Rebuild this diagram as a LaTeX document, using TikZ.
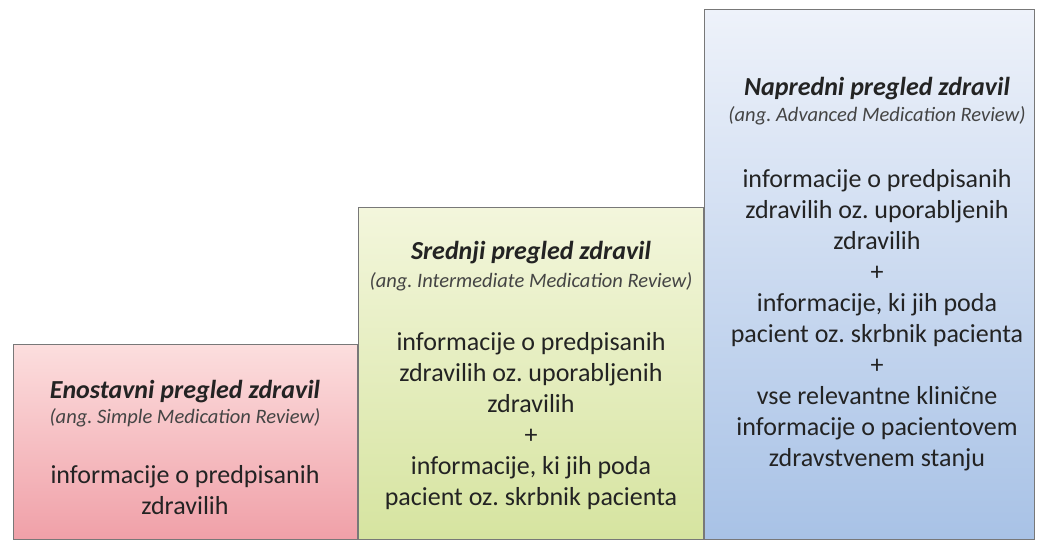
\documentclass[tikz,border=0pt]{standalone}
\usepackage{fontspec}
\setmainfont{Carlito}
\frenchspacing
\definecolor{txt}{RGB}{35,35,35}
\definecolor{edge}{RGB}{120,120,120}
\definecolor{redtop}{RGB}{252,222,222}
\definecolor{redbot}{RGB}{240,160,168}
\definecolor{grntop}{RGB}{243,246,220}
\definecolor{grnbot}{RGB}{214,228,160}
\definecolor{blutop}{RGB}{238,242,250}
\definecolor{blubot}{RGB}{168,194,230}
\tikzset{
  box/.style={draw=edge, line width=1pt, rectangle, anchor=south west, inner sep=0pt},
  ttl/.style={text=txt, font=\fontsize{26}{30}\selectfont\bfseries\itshape},
  sub/.style={text=txt!85, font=\fontsize{20.5}{24}\selectfont\itshape},
  body/.style={text=txt, align=center, font=\fontsize{26}{31}\selectfont}
}
\begin{document}
\begin{tikzpicture}[x=1pt,y=-1pt]
\useasboundingbox (0,0) rectangle (1040,542);
\fill[white] (0,0) rectangle (1040,542);
% boxes
\node[box, top color=redtop, bottom color=redbot, minimum width=344pt, minimum height=195pt] (simple) at (13,540) {};
\node[box, top color=grntop, bottom color=grnbot, minimum width=345pt, minimum height=332pt] (inter) at (358,540) {};
\node[box, top color=blutop, bottom color=blubot, minimum width=330pt, minimum height=530pt] (adv) at (704,540) {};
% simple
\node[ttl] (t1) at (185,392) {Enostavni pregled zdravil};
\node[sub] (s1) at (185,418) {(ang. Simple Medication Review)};
\node[body] (b1) at (185,490) {informacije o predpisanih\\zdravilih};
% intermediate
\node[ttl] (t2) at (531,253) {Srednji pregled zdravil};
\node[sub] (s2) at (531,282) {(ang. Intermediate Medication Review)};
\node[body] (b2) at (531,421) {informacije o predpisanih\\zdravilih oz. uporabljenih\\zdravilih\\+\\informacije, ki jih poda\\pacient oz. skrbnik pacienta};
% advanced
\node[ttl] (t3) at (877,89) {Napredni pregled zdravil};
\node[sub] (s3) at (877,116) {(ang. Advanced Medication Review)};
\node[body] (b3) at (877,320) {informacije o predpisanih\\zdravilih oz. uporabljenih\\zdravilih\\+\\informacije, ki jih poda\\pacient oz. skrbnik pacienta\\+\\vse relevantne klinične\\informacije o pacientovem\\zdravstvenem stanju};
\end{tikzpicture}
\end{document}
